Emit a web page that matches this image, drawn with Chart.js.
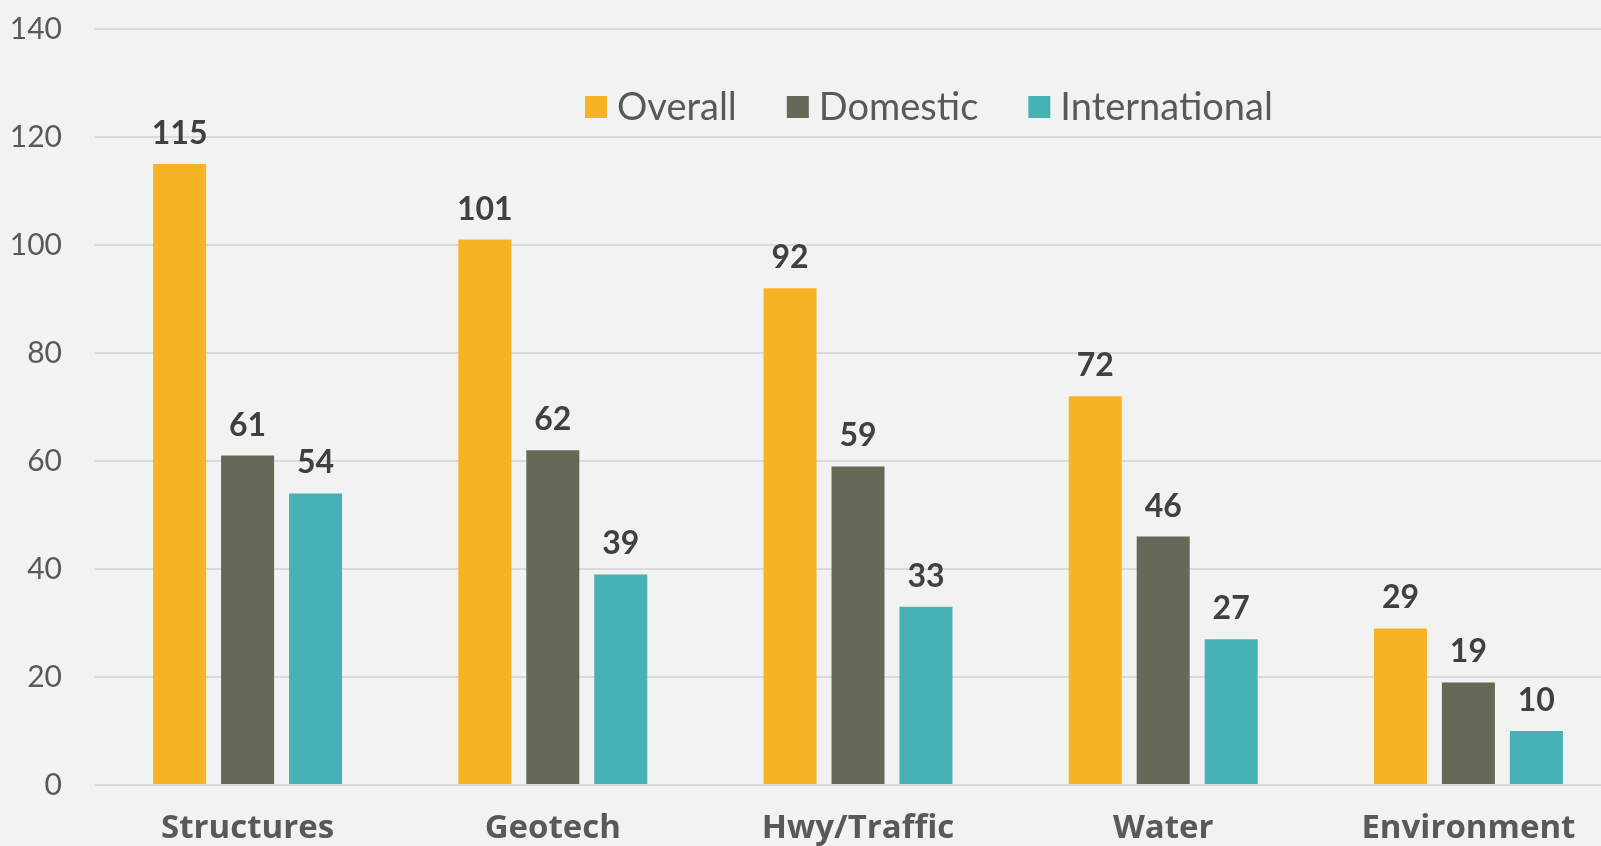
<!DOCTYPE html>
<html>
<head>
<meta charset="utf-8">
<script src="https://cdn.jsdelivr.net/npm/chart.js@4/dist/chart.umd.min.js"></script>
<style>
  html, body { margin: 0; padding: 0; overflow: hidden; background: #f2f2f2; }
  #wrap { width: 1621px; height: 846px; }
</style>
</head>
<body>
<div id="wrap"><canvas id="chart"></canvas></div>
<script>
const categories = ['Structures', 'Geotech', 'Hwy/Traffic', 'Water', 'Environment'];
const overall = [115, 101, 92, 72, 29];
const domestic = [61, 62, 59, 46, 19];
const international = [54, 39, 33, 27, 10];
const yTicks = [0, 20, 40, 60, 80, 100, 120, 140];

const FONT = 'Lato, "Open Sans", sans-serif';

// value labels above each bar
const barLabels = {
  id: 'barLabels',
  afterDatasetsDraw(chart) {
    const ctx = chart.ctx;
    ctx.save();
    ctx.font = 'bold 32px ' + FONT;
    ctx.fillStyle = '#404040';
    ctx.textAlign = 'center';
    ctx.textBaseline = 'alphabetic';
    chart.data.datasets.forEach((ds, i) => {
      chart.getDatasetMeta(i).data.forEach((bar, j) => {
        ctx.fillText(ds.data[j], bar.x, bar.y - 20);
      });
    });
    ctx.restore();
  }
};

// legend drawn inside the plot area
const insideLegend = {
  id: 'insideLegend',
  afterDraw(chart) {
    const ctx = chart.ctx;
    ctx.save();
    ctx.font = '38px ' + FONT;
    ctx.textBaseline = 'middle';
    ctx.textAlign = 'left';
    let x = 585;
    const y = 107;
    chart.data.datasets.forEach(ds => {
      ctx.fillStyle = ds.backgroundColor;
      ctx.fillRect(x, y - 11, 22, 22);
      ctx.fillStyle = '#595959';
      ctx.fillText(ds.label, x + 32, y + 1);
      x += 32 + ctx.measureText(ds.label).width + 50;
    });
    ctx.restore();
  }
};

new Chart(document.getElementById('chart'), {
  type: 'bar',
  data: {
    labels: categories,
    datasets: [
      { label: 'Overall', data: overall, backgroundColor: '#f6b323' },
      { label: 'Domestic', data: domestic, backgroundColor: '#656958' },
      { label: 'International', data: international, backgroundColor: '#47b2b5' }
    ]
  },
  options: {
    responsive: true,
    maintainAspectRatio: false,
    animation: false,
    layout: { padding: { top: 29, right: 0, left: 0, bottom: 0 } },
    datasets: { bar: { categoryPercentage: 0.668, barPercentage: 0.78 } },
    plugins: { legend: { display: false }, tooltip: { enabled: false } },
    scales: {
      x: {
        grid: { display: false, drawTicks: false },
        border: { display: false },
        ticks: { color: '#595959', font: { family: '"Open Sans", Lato, sans-serif', size: 33, weight: 'bold' }, padding: 24 },
        afterFit: s => { s.height = 61; }
      },
      y: {
        min: 0,
        max: 140,
        afterBuildTicks: s => { s.ticks = yTicks.map(v => ({ value: v })); },
        grid: { color: '#dadada', lineWidth: 2, drawTicks: false },
        border: { display: false },
        ticks: { color: '#595959', font: { family: FONT, size: 30 }, padding: 33 },
        afterFit: s => { s.width = 95; s.paddingTop = 0; s.paddingBottom = 0; }
      }
    }
  },
  plugins: [barLabels, insideLegend]
});
</script>
</body>
</html>
